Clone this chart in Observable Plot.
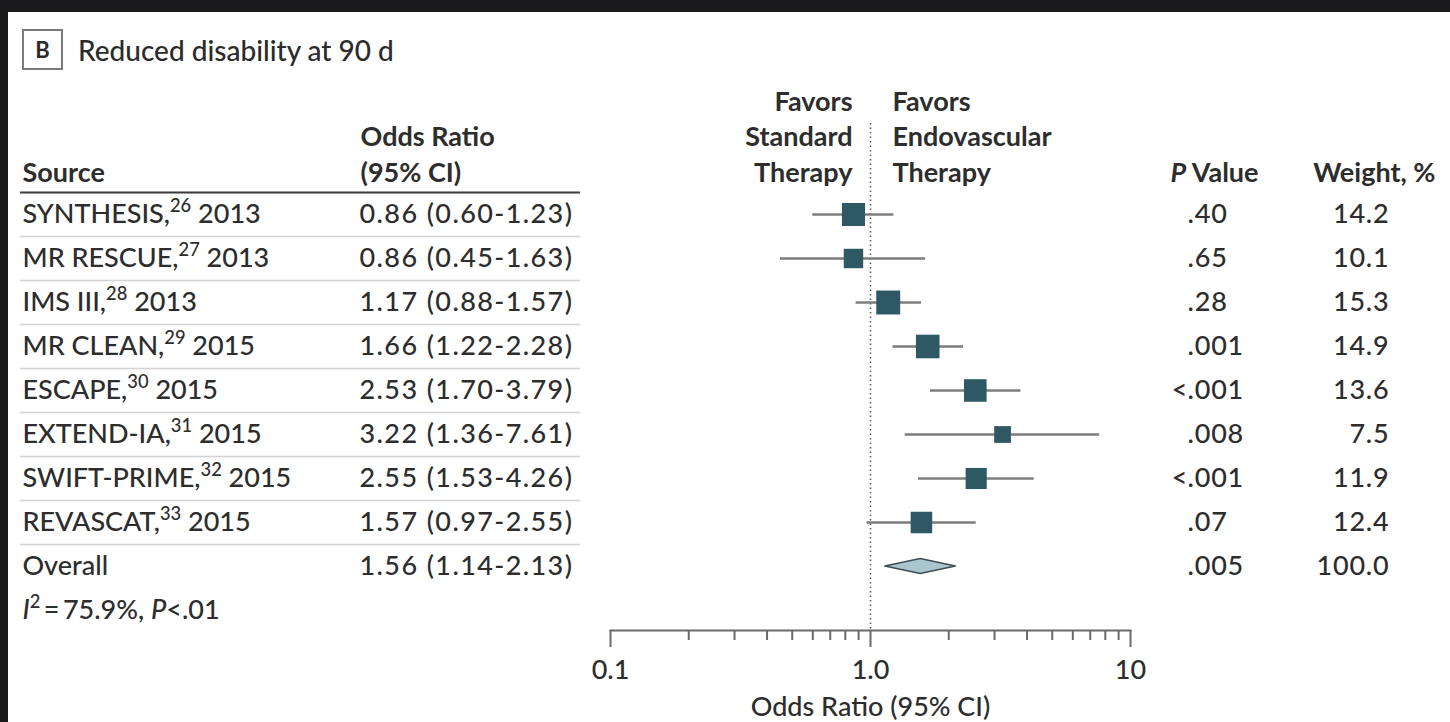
<!DOCTYPE html>
<html><head><meta charset="utf-8">
<script src="https://cdn.jsdelivr.net/npm/d3@7"></script>
<script src="https://cdn.jsdelivr.net/npm/@observablehq/plot@0.6"></script>
<style>
body{margin:0;background:#1a1a1c;}
#page{position:relative;width:1450px;height:722px;background:#1a1a1c;overflow:hidden;font-family:Lato,"Open Sans",sans-serif;}
#panel{position:absolute;left:8px;top:12px;right:0;bottom:0;background:#fff;}
#title{position:absolute;left:22px;top:29px;height:41px;display:flex;align-items:center;color:#2b2b2b;}
#title .box{box-sizing:border-box;width:41px;height:41px;border:2px solid #7a7a7a;display:flex;align-items:center;justify-content:center;font-weight:700;font-size:22px;margin-right:15px;}
#title .txt{font-size:28px;font-weight:500;}
#chart{position:absolute;left:0;top:80px;}
</style></head>
<body>
<div id="page"><div id="panel"></div>
<div id="title"><span class="box">B</span><span class="txt">Reduced disability at 90 d</span></div>
<div id="chart"></div></div>
<script>
// ---- data ----
const studies = ["SYNTHESIS", "MR RESCUE", "IMS III", "MR CLEAN", "ESCAPE", "EXTEND-IA", "SWIFT-PRIME", "REVASCAT"];
const refs = [26, 27, 28, 29, 30, 31, 32, 33];
const years = [2013, 2013, 2013, 2015, 2015, 2015, 2015, 2015];
const oddsRatio = [0.86, 0.86, 1.17, 1.66, 2.53, 3.22, 2.55, 1.57];
const ciLow = [0.60, 0.45, 0.88, 1.22, 1.70, 1.36, 1.53, 0.97];
const ciHigh = [1.23, 1.63, 1.57, 2.28, 3.79, 7.61, 4.26, 2.55];
const pValues = [".40", ".65", ".28", ".001", "<.001", ".008", "<.001", ".07"];
const weights = [14.2, 10.1, 15.3, 14.9, 13.6, 7.5, 11.9, 12.4];
const overall = {label: "Overall", or: 1.56, lo: 1.14, hi: 2.13, p: ".005", weight: 100.0};
const heterogeneity = "*I*^2^\u2009=\u200975.9%, *P*<.01";
const majorTicks = [0.1, 1, 10];
const minorTicks = [0.2, 0.3, 0.4, 0.5, 0.6, 0.7, 0.8, 0.9, 2, 3, 4, 5, 6, 7, 8, 9];
const favorsLeft = "Favors\nStandard\nTherapy";
const favorsRight = "Favors\nEndovascular\nTherapy";

// ---- table built from the arrays ----
const f2 = d3.format(".2f");
const rows = studies.map((s, i) => ({
  row: i,
  label: `${s},^${refs[i]}^ ${years[i]}`,
  ci: `${f2(oddsRatio[i])} (${f2(ciLow[i])}-${f2(ciHigh[i])})`,
  or: oddsRatio[i], lo: ciLow[i], hi: ciHigh[i],
  pPre: pValues[i].startsWith("<") ? "<" : "",
  pRest: pValues[i].replace("<", ""),
  weight: weights[i].toFixed(1)
}));
const overallRow = {
  row: studies.length, label: overall.label,
  ci: `${f2(overall.or)} (${f2(overall.lo)}-${f2(overall.hi)})`,
  pPre: overall.p.startsWith("<") ? "<" : "", pRest: overall.p.replace("<", ""),
  weight: overall.weight.toFixed(1)
};
const allRows = [...rows, overallRow];
const hetRow = studies.length + 1;
const diamondH = 0.17;
const diamond = [
  {x: overall.lo, y1: overallRow.row, y2: overallRow.row},
  {x: overall.or, y1: overallRow.row - diamondH, y2: overallRow.row + diamondH},
  {x: overall.hi, y1: overallRow.row, y2: overallRow.row}
];
const separators = d3.range(studies.length).map(i => i + 0.5);
const ciTexts = new Set(allRows.map(d => d.ci));
const pTexts = new Set(allRows.map(d => d.pRest));
const wTexts = new Set(allRows.map(d => d.weight));

// ---- layout ----
const W = 1450, H = 642;
const mL = 610, mR = 320, mT = 134, mB = 92;
const L = c => c - mL, R = c => c - (W - mR);
const textColor = "#2d2d2d";
const font = "Lato, 'Open Sans', sans-serif";
const FS = 27;
const bodyText = {fill: textColor, fontWeight: 500};
const headText = {fill: textColor, fontWeight: 700, lineAnchor: "bottom", dy: 11, lineHeight: 1.3};

const chart = Plot.plot({
  width: W, height: H,
  marginLeft: mL, marginRight: mR, marginTop: mT, marginBottom: mB,
  style: {fontFamily: font, fontSize: FS + "px", color: textColor, background: "transparent", overflow: "visible"},
  x: {type: "log", domain: [0.1, 10], axis: null},
  y: {domain: [0, hetRow], reverse: true, axis: null, insetBottom: 20},
  r: {range: [0, 13.5]},
  marks: [
    Plot.ruleY(separators, {y: d => d, insetLeft: -(mL - 20), insetRight: (W - mR) - 580, stroke: "#d2d2d2", strokeWidth: 1.5}),
    Plot.ruleY([-0.5], {y: d => d, insetLeft: -(mL - 20), insetRight: (W - mR) - 580, stroke: "#3a3a3a", strokeWidth: 2}),
    Plot.ruleX([1], {x: d => d, y1: -2.07, y2: hetRow + 0.45, stroke: "#555", strokeWidth: 1.5, strokeDasharray: "1.5,3"}),
    Plot.ruleY(rows, {y: "row", x1: "lo", x2: "hi", stroke: "#7d7d7d", strokeWidth: 2.6}),
    Plot.dot(rows, {x: "or", y: "row", r: d => +d.weight, symbol: "square", fill: "#2f5865", stroke: "none"}),
    Plot.areaY(diamond, {x: "x", y1: "y1", y2: "y2", fill: "#a9c5cd", stroke: "#3d4f55", strokeWidth: 1.5}),
    Plot.frame({anchor: "bottom", stroke: "#6a6a6a", strokeWidth: 2}),
    Plot.axisX({ticks: majorTicks, tickSize: 17, tickPadding: 12, tickFormat: d => d === 1 ? "1.0" : `${d}`, stroke: "#6a6a6a", strokeWidth: 2, label: null, fill: textColor, fontWeight: 500}),
    Plot.axisX({ticks: minorTicks, tickSize: 10, tickFormat: () => "", stroke: "#6a6a6a", strokeWidth: 2, label: null}),
    Plot.text(["Odds Ratio (95% CI)"], {frameAnchor: "bottom", dy: 85, text: d => d, ...bodyText}),
    // favors labels
    Plot.text([favorsLeft], {x: 1, y: -1, text: d => d, textAnchor: "end", dx: -18, ...headText}),
    Plot.text([favorsRight], {x: 1, y: -1, text: d => d, textAnchor: "start", dx: 22, ...headText}),
    // headers
    Plot.text(["Source"], {frameAnchor: "left", y: -1, text: d => d, textAnchor: "start", dx: L(22), ...headText}),
    Plot.text(["Odds Ratio\n(95% CI)"], {frameAnchor: "left", y: -1, text: d => d, textAnchor: "start", dx: L(360), ...headText}),
    Plot.text(["*P* Value"], {frameAnchor: "right", y: -1, text: d => d, textAnchor: "start", dx: R(1170), ...headText}),
    Plot.text(["Weight, %"], {frameAnchor: "right", y: -1, text: d => d, textAnchor: "end", dx: R(1435), ...headText}),
    // rows
    Plot.text(allRows, {frameAnchor: "left", y: "row", text: "label", textAnchor: "start", dx: L(22), ...bodyText}),
    Plot.text(allRows, {frameAnchor: "left", y: "row", text: "ci", textAnchor: "start", dx: L(359), ...bodyText}),
    Plot.text(allRows, {frameAnchor: "right", y: "row", text: "pPre", textAnchor: "end", dx: R(1187), ...bodyText}),
    Plot.text(allRows, {frameAnchor: "right", y: "row", text: "pRest", textAnchor: "start", dx: R(1187), ...bodyText}),
    Plot.text(allRows, {frameAnchor: "right", y: "row", text: "weight", textAnchor: "end", dx: R(1389), ...bodyText}),
    Plot.text([heterogeneity], {frameAnchor: "left", y: hetRow, text: d => d, textAnchor: "start", dx: L(22), ...bodyText})
  ]
});

// digit columns: looser tracking, as in the original typeface
chart.querySelectorAll("text").forEach(t => {
  const s = t.textContent;
  if (ciTexts.has(s)) t.setAttribute("letter-spacing", "1.4");
  else if (pTexts.has(s) || wTexts.has(s)) t.setAttribute("letter-spacing", "0.8");
});

// superscript / italic markup -> tspans
const NS = "http://www.w3.org/2000/svg";
function applyMarkup(el) {
  const s = el.textContent;
  if (!/[\^*]/.test(s)) return;
  el.textContent = "";
  const parts = s.split(/(\^[^^]*\^|\*[^*]*\*)/g).filter(p => p !== "");
  let raised = false;
  for (const p of parts) {
    const ts = document.createElementNS(NS, "tspan");
    if (p.startsWith("^")) {
      ts.textContent = p.slice(1, -1);
      ts.setAttribute("font-size", "0.68em");
      ts.setAttribute("dy", "-0.62em");
      raised = true;
    } else {
      if (p.startsWith("*")) { ts.textContent = p.slice(1, -1); ts.setAttribute("font-style", "italic"); }
      else ts.textContent = p;
      if (raised) { ts.setAttribute("dy", "0.42em"); raised = false; }
    }
    el.appendChild(ts);
  }
}
chart.querySelectorAll("text").forEach(t => {
  const spans = t.querySelectorAll("tspan");
  if (spans.length) spans.forEach(applyMarkup); else applyMarkup(t);
});
document.getElementById("chart").appendChild(chart);
</script>
</body></html>
